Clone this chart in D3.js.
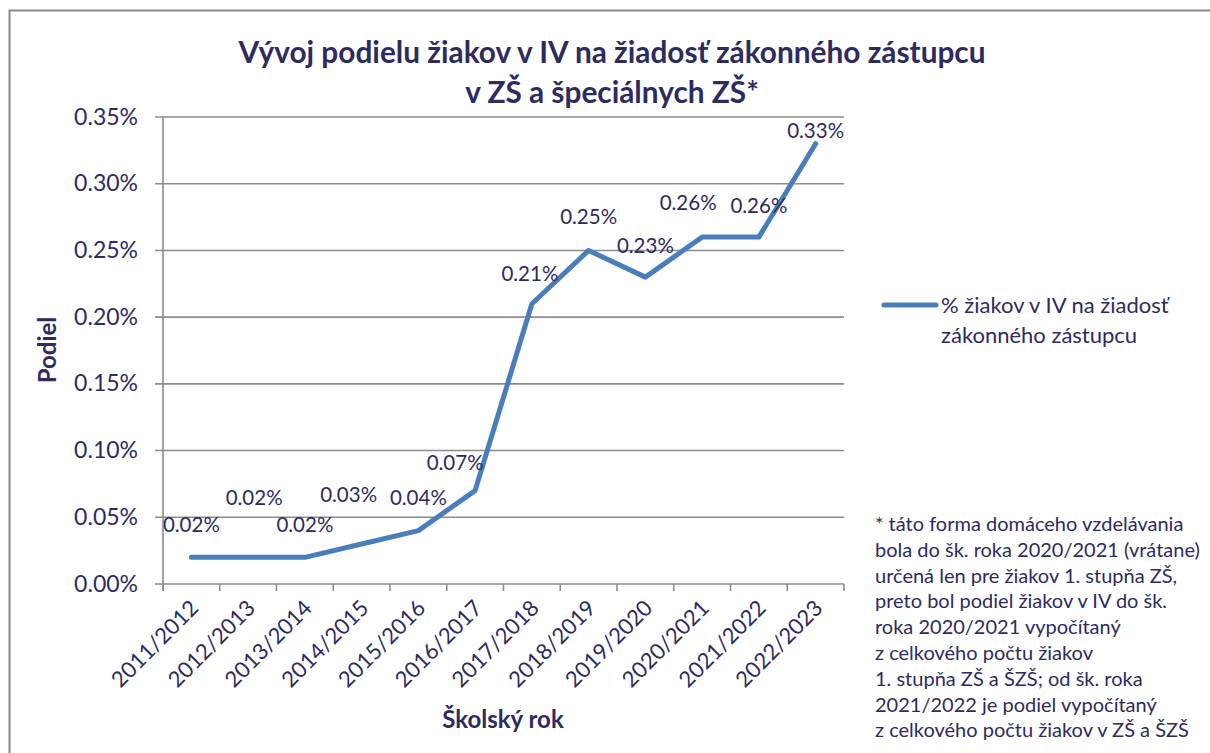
<!DOCTYPE html>
<html>
<head>
<meta charset="utf-8">
<script src="https://cdn.jsdelivr.net/npm/d3@7"></script>
<style>
  body { margin: 0; background: #fff; }
  text { font-family: Lato, "Noto Sans", sans-serif; fill: #2e2b5f; }
</style>
</head>
<body>
<div id="chart"></div>
<script>
const years = ['2011/2012', '2012/2013', '2013/2014', '2014/2015', '2015/2016', '2016/2017',
  '2017/2018', '2018/2019', '2019/2020', '2020/2021', '2021/2022', '2022/2023'];
const share = [0.02, 0.02, 0.02, 0.03, 0.04, 0.07, 0.21, 0.25, 0.23, 0.26, 0.26, 0.33];
const yTicks = [0, 0.05, 0.10, 0.15, 0.20, 0.25, 0.30, 0.35];
const titleLines = ['Vývoj podielu žiakov v IV na žiadosť zákonného zástupcu', 'v ZŠ a špeciálnych ZŠ*'];
const legendLines = ['% žiakov v IV na žiadosť', 'zákonného zástupcu'];
const noteLines = [
  '* táto forma domáceho vzdelávania',
  'bola do šk. roka 2020/2021 (vrátane)',
  'určená len pre žiakov 1. stupňa ZŠ,',
  'preto bol podiel žiakov v IV do šk.',
  'roka 2020/2021 vypočítaný',
  'z celkového počtu žiakov',
  '1. stupňa ZŠ a ŠZŠ; od šk. roka',
  '2021/2022 je podiel vypočítaný',
  'z celkového počtu žiakov v ZŠ a ŠZŠ'
];

// label nudges (Excel moved some labels to avoid overlaps)
const labelNudge = [[0, -25], [6, -52], [0, -25], [-13, -42], [0, -26], [-20, -21],
  [-2, -23], [0, -26], [0, -24], [-14, -27], [0, -24], [0, -6]];

const width = 1210, height = 753;
const grid = '#8c8c8c', lineColor = '#4a7ebb';

const svg = d3.select('#chart').append('svg')
  .attr('width', width)
  .attr('height', height);

// frame
svg.append('path')
  .attr('d', 'M9.5,753 L9.5,10.5 L1210,10.5')
  .attr('fill', 'none')
  .attr('stroke', '#8a8a8a')
  .attr('stroke-width', 2);

const x = d3.scaleBand().domain(years).range([163, 844]);
const y = d3.scaleLinear().domain([0, 0.35]).range([584, 117]);

// gridlines + y ticks
svg.append('g').selectAll('line')
  .data(yTicks)
  .join('line')
  .attr('x1', 155).attr('x2', 844)
  .attr('y1', d => y(d)).attr('y2', d => y(d))
  .attr('stroke', grid).attr('stroke-width', 1.6);

svg.append('g').selectAll('text')
  .data(yTicks)
  .join('text')
  .attr('x', 138)
  .attr('y', d => y(d) + 7.5)
  .attr('text-anchor', 'end')
  .style('font-size', '23px')
  .text(d => d3.format('.2f')(d) + '%');

// y axis line
svg.append('line')
  .attr('x1', 163).attr('x2', 163)
  .attr('y1', y(0.35)).attr('y2', y(0) + 7)
  .attr('stroke', grid).attr('stroke-width', 1.6);

// x ticks at band edges
const edges = years.map(d => x(d)).concat([x.range()[1]]);
svg.append('g').selectAll('line')
  .data(edges)
  .join('line')
  .attr('x1', d => d).attr('x2', d => d)
  .attr('y1', y(0)).attr('y2', y(0) + 7)
  .attr('stroke', grid).attr('stroke-width', 1.6);

svg.append('g').selectAll('text')
  .data(years)
  .join('text')
  .attr('transform', d => `translate(${x(d) + x.bandwidth() / 2 + 3},${y(0) + 20}) rotate(-45)`)
  .attr('text-anchor', 'end')
  .attr('dy', '0.35em')
  .style('font-size', '22px')
  .text(d => d);

// line
const line = d3.line()
  .x((d, i) => x(years[i]) + x.bandwidth() / 2)
  .y(d => y(d));

svg.append('path')
  .datum(share)
  .attr('d', line)
  .attr('fill', 'none')
  .attr('stroke', lineColor)
  .attr('stroke-width', 5)
  .attr('stroke-linejoin', 'round')
  .attr('stroke-linecap', 'round');

// data labels
svg.append('g').selectAll('text')
  .data(share)
  .join('text')
  .attr('x', (d, i) => x(years[i]) + x.bandwidth() / 2 + labelNudge[i][0])
  .attr('y', (d, i) => y(d) + labelNudge[i][1])
  .attr('text-anchor', 'middle')
  .style('font-size', '20.5px')
  .text(d => d3.format('.2f')(d) + '%');

// title
svg.append('g').selectAll('text')
  .data(titleLines)
  .join('text')
  .attr('x', 612)
  .attr('y', (d, i) => 63 + i * 40)
  .attr('text-anchor', 'middle')
  .style('font-size', '29.8px')
  .style('font-weight', 'bold')
  .text(d => d);

// axis titles
svg.append('text')
  .attr('transform', 'translate(56,350) rotate(-90)')
  .attr('text-anchor', 'middle')
  .style('font-size', '24px')
  .style('font-weight', 'bold')
  .text('Podiel');

svg.append('text')
  .attr('x', 503)
  .attr('y', 728)
  .attr('text-anchor', 'middle')
  .style('font-size', '24px')
  .style('font-weight', 'bold')
  .text('Školský rok');

// legend
svg.append('line')
  .attr('x1', 884).attr('x2', 936)
  .attr('y1', 305).attr('y2', 305)
  .attr('stroke', lineColor)
  .attr('stroke-width', 5)
  .attr('stroke-linecap', 'round');

svg.append('g').selectAll('text')
  .data(legendLines)
  .join('text')
  .attr('x', 941)
  .attr('y', (d, i) => 313 + i * 30)
  .style('font-size', '22px')
  .text(d => d);

// footnote
svg.append('g').selectAll('text')
  .data(noteLines)
  .join('text')
  .attr('x', 875)
  .attr('y', (d, i) => 531 + i * 25.8)
  .style('font-size', '20px')
  .text(d => d);
</script>
</body>
</html>
